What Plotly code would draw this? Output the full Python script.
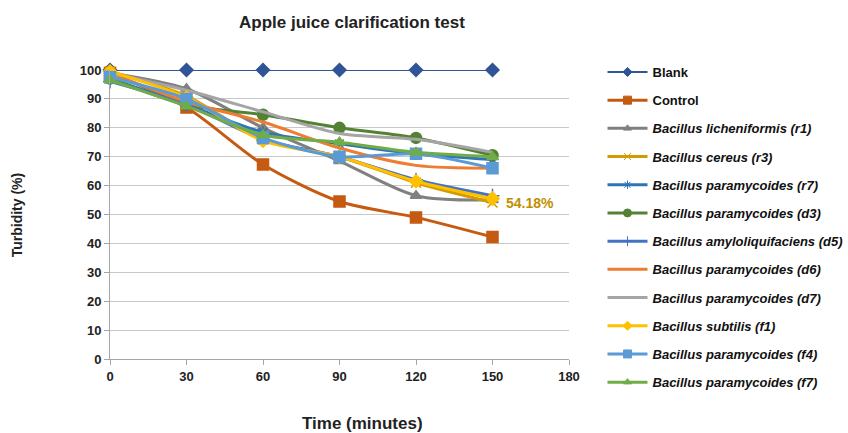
import plotly.graph_objects as go

time_min = [0, 30, 60, 90, 120, 150]

series_names = [
    "Blank", "Control",
    "Bacillus licheniformis (r1)", "Bacillus cereus (r3)",
    "Bacillus paramycoides (r7)", "Bacillus paramycoides (d3)",
    "Bacillus amyloliquifaciens (d5)", "Bacillus paramycoides (d6)",
    "Bacillus paramycoides (d7)", "Bacillus subtilis (f1)",
    "Bacillus paramycoides (f4)", "Bacillus paramycoides (f7)",
]

blank = [100, 100, 100, 100, 100, 100]
control = [99, 87, 67.3, 54.5, 49, 42.2]
r1 = [99, 93.5, 80, 68.5, 56.5, 55]
r3 = [99.5, 91, 76, 70, 61, 54.18]
r7 = [97, 88, 78.5, 74.5, 71, 69]
d3 = [97, 88, 84.5, 80, 76.5, 70.5]
d5 = [96, 88, 76, 70, 62, 56.5]
d6 = [99, 89, 82, 73, 67, 66]
d7 = [99, 93, 85.5, 78, 76, 71.5]
f1 = [99.5, 90.5, 75.5, 70, 61.5, 55.5]
f4 = [97.5, 90, 76.5, 70, 71, 66]
f7 = [96.5, 87.5, 77.5, 75, 71.5, 70]

values = [blank, control, r1, r3, r7, d3, d5, d6, d7, f1, f4, f7]
colors = ["#2F5597", "#C55A11", "#808080", "#D39B00", "#2E75B6", "#548235",
          "#4472C4", "#ED7D31", "#A5A5A5", "#FFC000", "#5B9BD5", "#70AD47"]
symbols = ["diamond", "square", "triangle-up", "x-thin-open", "asterisk-open",
           "circle", "cross-thin-open", None, None, "diamond", "square", "triangle-up"]
sizes = [10, 11, 10, 10, 10, 11, 10, 0, 0, 10, 11, 10]
legend_sizes = [7, 8, 7, 7, 7, 8, 7, 0, 0, 7, 8, 7]

label_text = "54.18%"

fig = go.Figure()
for i in range(len(values)):
    name = series_names[i]
    disp = f"<b>{name}</b>" if i < 2 else f"<b><i>{name}</i></b>"
    sym = symbols[i]
    mode = "lines+markers" if sym else "lines"
    lw = 2 if i == 0 else 3
    marker = dict(symbol=sym, size=sizes[i], color=colors[i],
                  line=dict(color=colors[i], width=1.5)) if sym else None
    fig.add_trace(go.Scatter(
        x=time_min, y=values[i], name=disp, mode=mode,
        line=dict(color=colors[i], width=lw,
                  shape="linear" if i == 0 else "spline", smoothing=0.8),
        marker=marker, legendgroup=str(i), cliponaxis=False, showlegend=False,
    ))
    # legend-only entry with a smaller symbol
    lmarker = dict(symbol=sym, size=legend_sizes[i], color=colors[i],
                   line=dict(color=colors[i], width=1)) if sym else None
    fig.add_trace(go.Scatter(
        x=[None], y=[None], name=disp, mode=mode,
        line=dict(color=colors[i], width=lw), marker=lmarker,
        legendgroup=str(i), showlegend=True,
    ))

fig.add_annotation(x=time_min[-1], y=r3[-1], text=f"<b>{label_text}</b>",
                   showarrow=False, xanchor="left", yanchor="middle",
                   xshift=11, yshift=-1,
                   font=dict(size=14, color="#BF9000", family="Liberation Sans"))

fig.add_annotation(xref="paper", yref="paper", x=0.551, y=-0.222,
                   text="<b>Time (minutes)</b>", showarrow=False,
                   xanchor="center", yanchor="middle",
                   font=dict(size=17, color="#222222", family="Liberation Sans"))
fig.add_annotation(xref="paper", yref="paper", x=-0.203, y=0.5,
                   text="<b>Turbidity (%)</b>", showarrow=False, textangle=-90,
                   xanchor="center", yanchor="middle",
                   font=dict(size=14, color="#222222", family="Liberation Sans"))

fig.update_layout(
    width=848, height=433,
    margin=dict(l=110, r=279, t=70, b=74, autoexpand=False),
    paper_bgcolor="white", plot_bgcolor="white",
    font=dict(family="Liberation Sans", color="#222222", size=13),
    title=dict(text="<b>Apple juice clarification test</b>", x=0.415, xanchor="center",
               y=0.948, yanchor="middle", yref="container",
               font=dict(size=17, color="#222222")),
    xaxis=dict(range=[0, 180], tickvals=[0, 30, 60, 90, 120, 150, 180],
               ticktext=[f"<b>{v}</b>" for v in [0, 30, 60, 90, 120, 150, 180]],
               showgrid=False, showline=True, linecolor="#A6A6A6", linewidth=1,
               ticks="outside", ticklen=5, tickcolor="#A6A6A6", zeroline=False,
               tickfont=dict(size=13)),
    yaxis=dict(range=[0, 100], tickvals=list(range(0, 101, 10)),
               ticktext=[f"<b>{v}</b>" for v in range(0, 101, 10)],
               showgrid=True, gridcolor="#C8C8C8", gridwidth=1,
               showline=True, linecolor="#A6A6A6", linewidth=1,
               ticks="outside", ticklen=5, tickcolor="#A6A6A6", zeroline=False,
               tickfont=dict(size=13)),
    legend=dict(x=1.073, xanchor="left", y=1.045, yanchor="top",
                font=dict(size=13, color="#111111"), tracegroupgap=8.3,
                traceorder="grouped", itemwidth=40, bgcolor="rgba(0,0,0,0)",
                maxheight=1),
)

fig.write_html("out.html")
